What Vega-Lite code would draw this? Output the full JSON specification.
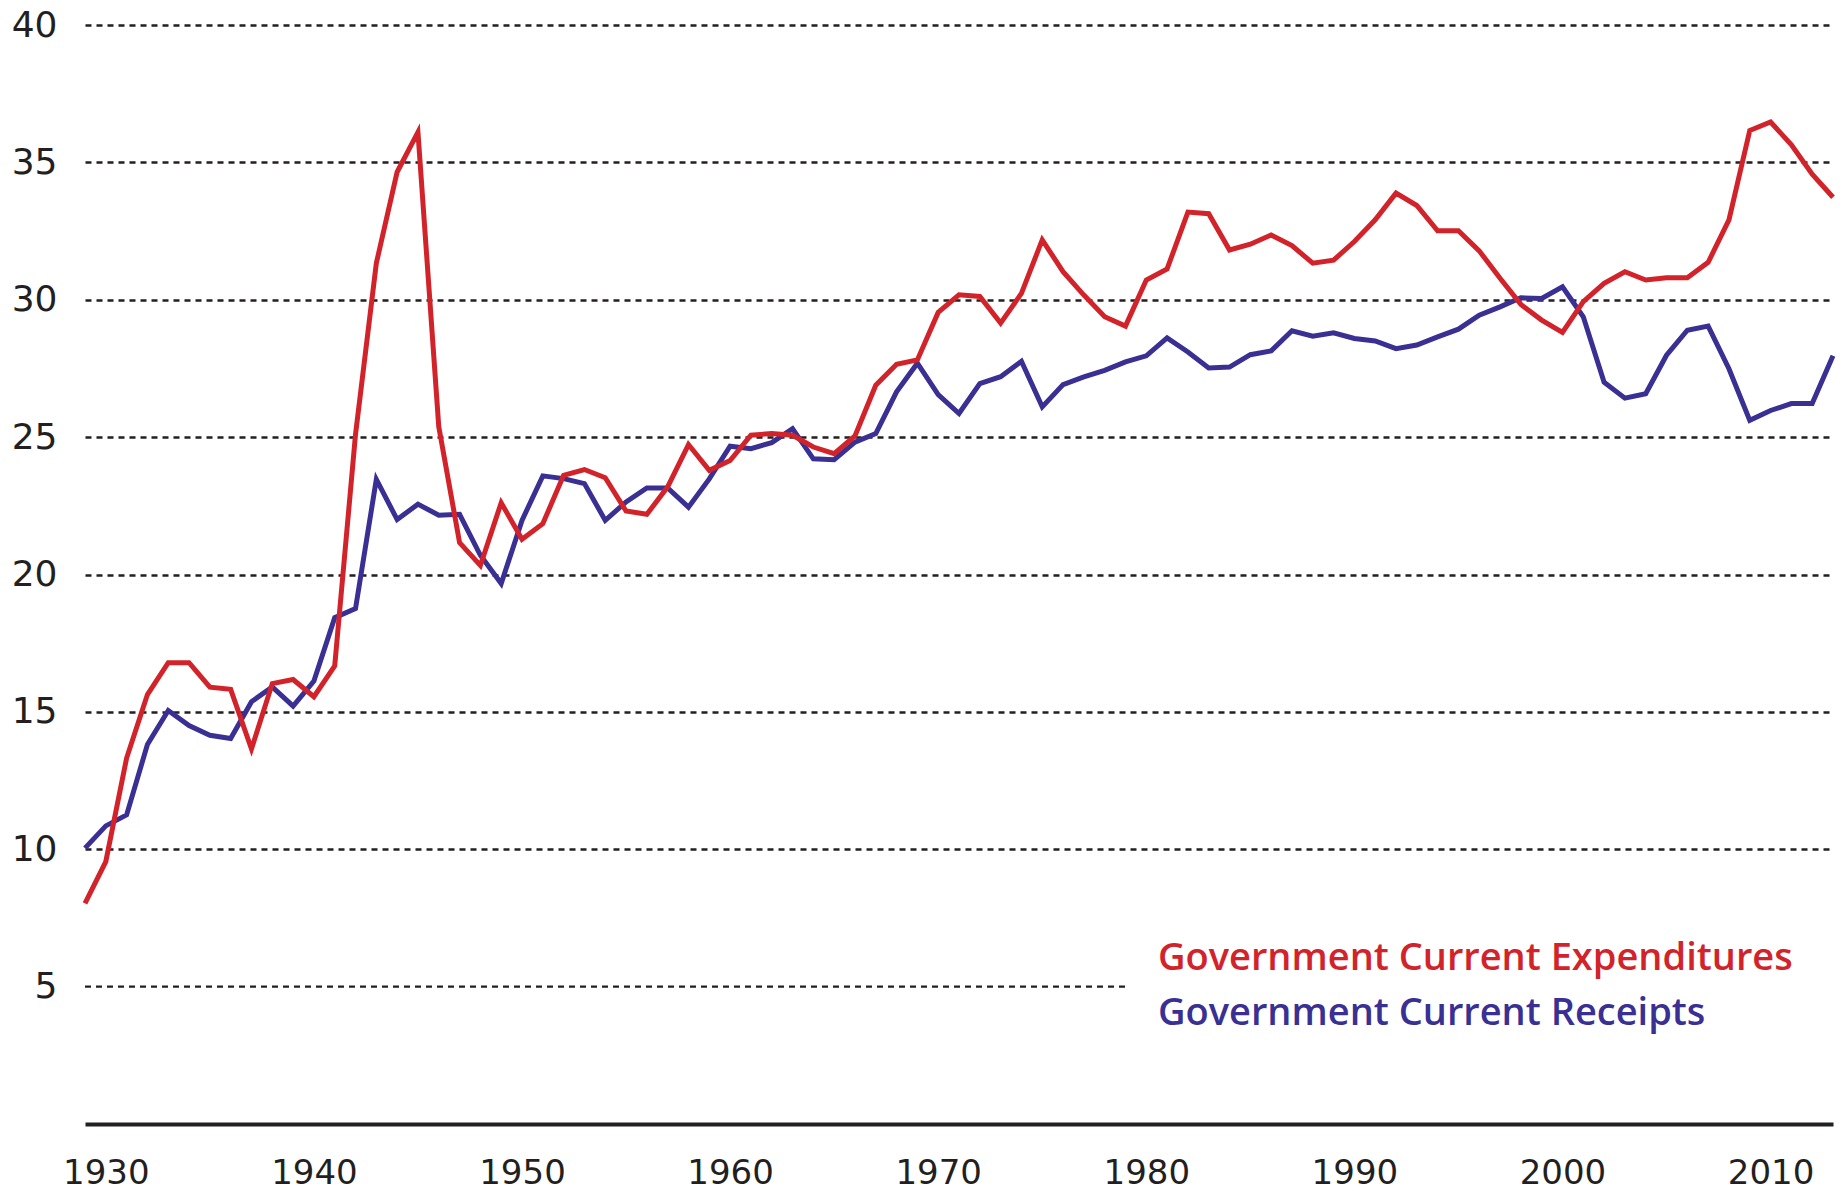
{
  "$schema": "https://vega.github.io/schema/vega-lite/v6.json",
  "width": 1748,
  "height": 1099,
  "autosize": {"type": "none"},
  "padding": {"left": 85, "top": 25, "right": 12, "bottom": 67},
  "background": "white",
  "config": {"view": {"stroke": null}, "font": "DejaVu Sans"},
  "layer": [
    {
      "data": {"values": [{"level": 5, "from": 1929, "to": 1979}]},
      "mark": {"type": "rule", "color": "#231f20", "strokeWidth": 2.4, "strokeDash": [6, 5]},
      "encoding": {
        "x": {"field": "from", "type": "quantitative"},
        "x2": {"field": "to"},
        "y": {"field": "level", "type": "quantitative"}
      }
    },
    {
      "data": {"values": [
        {"year": 1929, "exp": 8.03, "rec": 10.04},
        {"year": 1930, "exp": 9.55, "rec": 10.85},
        {"year": 1931, "exp": 13.32, "rec": 11.25},
        {"year": 1932, "exp": 15.63, "rec": 13.81},
        {"year": 1933, "exp": 16.79, "rec": 15.05},
        {"year": 1934, "exp": 16.79, "rec": 14.5},
        {"year": 1935, "exp": 15.9, "rec": 14.15},
        {"year": 1936, "exp": 15.82, "rec": 14.03},
        {"year": 1937, "exp": 13.65, "rec": 15.37},
        {"year": 1938, "exp": 16.03, "rec": 15.91},
        {"year": 1939, "exp": 16.18, "rec": 15.21},
        {"year": 1940, "exp": 15.55, "rec": 16.12},
        {"year": 1941, "exp": 16.67, "rec": 18.43},
        {"year": 1942, "exp": 25.1, "rec": 18.76},
        {"year": 1943, "exp": 31.33, "rec": 23.46},
        {"year": 1944, "exp": 34.65, "rec": 22.0},
        {"year": 1945, "exp": 36.1, "rec": 22.56},
        {"year": 1946, "exp": 25.38, "rec": 22.16},
        {"year": 1947, "exp": 21.16, "rec": 22.19},
        {"year": 1948, "exp": 20.33, "rec": 20.7},
        {"year": 1949, "exp": 22.61, "rec": 19.67},
        {"year": 1950, "exp": 21.28, "rec": 21.97},
        {"year": 1951, "exp": 21.85, "rec": 23.59},
        {"year": 1952, "exp": 23.61, "rec": 23.49},
        {"year": 1953, "exp": 23.82, "rec": 23.31},
        {"year": 1954, "exp": 23.52, "rec": 21.97},
        {"year": 1955, "exp": 22.31, "rec": 22.64},
        {"year": 1956, "exp": 22.19, "rec": 23.15},
        {"year": 1957, "exp": 23.19, "rec": 23.15},
        {"year": 1958, "exp": 24.73, "rec": 22.45},
        {"year": 1959, "exp": 23.79, "rec": 23.48},
        {"year": 1960, "exp": 24.15, "rec": 24.67},
        {"year": 1961, "exp": 25.07, "rec": 24.58},
        {"year": 1962, "exp": 25.13, "rec": 24.8},
        {"year": 1963, "exp": 25.07, "rec": 25.31},
        {"year": 1964, "exp": 24.64, "rec": 24.21},
        {"year": 1965, "exp": 24.4, "rec": 24.18},
        {"year": 1966, "exp": 25.04, "rec": 24.82},
        {"year": 1967, "exp": 26.89, "rec": 25.13},
        {"year": 1968, "exp": 27.65, "rec": 26.65},
        {"year": 1969, "exp": 27.81, "rec": 27.69},
        {"year": 1970, "exp": 29.54, "rec": 26.55},
        {"year": 1971, "exp": 30.18, "rec": 25.86},
        {"year": 1972, "exp": 30.12, "rec": 26.95},
        {"year": 1973, "exp": 29.15, "rec": 27.2},
        {"year": 1974, "exp": 30.23, "rec": 27.76},
        {"year": 1975, "exp": 32.18, "rec": 26.1},
        {"year": 1976, "exp": 31.02, "rec": 26.91},
        {"year": 1977, "exp": 30.17, "rec": 27.19},
        {"year": 1978, "exp": 29.38, "rec": 27.43},
        {"year": 1979, "exp": 29.04, "rec": 27.74},
        {"year": 1980, "exp": 30.72, "rec": 27.96},
        {"year": 1981, "exp": 31.12, "rec": 28.61},
        {"year": 1982, "exp": 33.19, "rec": 28.1},
        {"year": 1983, "exp": 33.13, "rec": 27.52},
        {"year": 1984, "exp": 31.81, "rec": 27.55},
        {"year": 1985, "exp": 32.02, "rec": 28.0},
        {"year": 1986, "exp": 32.36, "rec": 28.14},
        {"year": 1987, "exp": 31.97, "rec": 28.87},
        {"year": 1988, "exp": 31.33, "rec": 28.67},
        {"year": 1989, "exp": 31.44, "rec": 28.8},
        {"year": 1990, "exp": 32.12, "rec": 28.59},
        {"year": 1991, "exp": 32.91, "rec": 28.5},
        {"year": 1992, "exp": 33.88, "rec": 28.22},
        {"year": 1993, "exp": 33.43, "rec": 28.35},
        {"year": 1994, "exp": 32.51, "rec": 28.65},
        {"year": 1995, "exp": 32.51, "rec": 28.93},
        {"year": 1996, "exp": 31.78, "rec": 29.44},
        {"year": 1997, "exp": 30.78, "rec": 29.74},
        {"year": 1998, "exp": 29.83, "rec": 30.07},
        {"year": 1999, "exp": 29.26, "rec": 30.05},
        {"year": 2000, "exp": 28.81, "rec": 30.47},
        {"year": 2001, "exp": 29.93, "rec": 29.38},
        {"year": 2002, "exp": 30.6, "rec": 27.0},
        {"year": 2003, "exp": 31.02, "rec": 26.42},
        {"year": 2004, "exp": 30.72, "rec": 26.58},
        {"year": 2005, "exp": 30.8, "rec": 27.98},
        {"year": 2006, "exp": 30.8, "rec": 28.89},
        {"year": 2007, "exp": 31.36, "rec": 29.04},
        {"year": 2008, "exp": 32.91, "rec": 27.49},
        {"year": 2009, "exp": 36.16, "rec": 25.61},
        {"year": 2010, "exp": 36.47, "rec": 25.97},
        {"year": 2011, "exp": 35.64, "rec": 26.22},
        {"year": 2012, "exp": 34.57, "rec": 26.22},
        {"year": 2013, "exp": 33.73, "rec": 27.96}
      ]},
      "transform": [{"fold": ["rec", "exp"], "as": ["series", "value"]}],
      "mark": {"type": "line", "strokeWidth": 5, "strokeJoin": "miter"},
      "encoding": {
        "x": {
          "field": "year", "type": "quantitative",
          "scale": {"domain": [1929, 2013], "nice": false, "zero": false},
          "axis": {
            "title": null, "values": [1930, 1940, 1950, 1960, 1970, 1980, 1990, 2000, 2010],
            "format": "d", "grid": false, "ticks": false, "tickSize": 0,
            "domain": true, "domainColor": "#231f20", "domainWidth": 4,
            "labelFont": "DejaVu Sans", "labelFontSize": 34, "labelColor": "#231f20",
            "labelPadding": 49, "labelBaseline": "middle", "labelFlush": false
          }
        },
        "y": {
          "field": "value", "type": "quantitative",
          "scale": {"domain": [0, 40], "nice": false},
          "axis": {
            "title": null, "values": [5, 10, 15, 20, 25, 30, 35, 40],
            "domain": false, "ticks": false, "tickSize": 0,
            "grid": true, "gridColor": "#231f20", "gridWidth": 2.4, "gridDash": [6, 5],
            "gridOpacity": {"condition": {"test": "datum.value == 5", "value": 0}, "value": 1},
            "labelFont": "DejaVu Sans", "labelFontSize": 36, "labelColor": "#231f20",
            "labelPadding": 28, "labelAlign": "right", "labelBaseline": "middle"
          }
        },
        "color": {
          "field": "series", "type": "nominal",
          "scale": {"domain": ["exp", "rec"], "range": ["#d2232a", "#3a2f92"]},
          "legend": {
            "title": null, "orient": "none", "legendX": 1035, "legendY": 915,
            "labelExpr": "datum.value == 'exp' ? 'Government Current Expenditures' : 'Government Current Receipts'",
            "labelFont": "Open Sans", "labelFontWeight": 600, "labelFontSize": 38,
            "labelLimit": 1000, "labelOffset": 0, "symbolSize": 0, "symbolOpacity": 0,
            "symbolStrokeWidth": 0, "rowPadding": 17, "padding": 0,
            "encode": {"labels": {"update": {"fill": {"scale": "color", "field": "value"}}}}
          }
        },
        "order": {"field": "series"}
      }
    }
  ]
}
